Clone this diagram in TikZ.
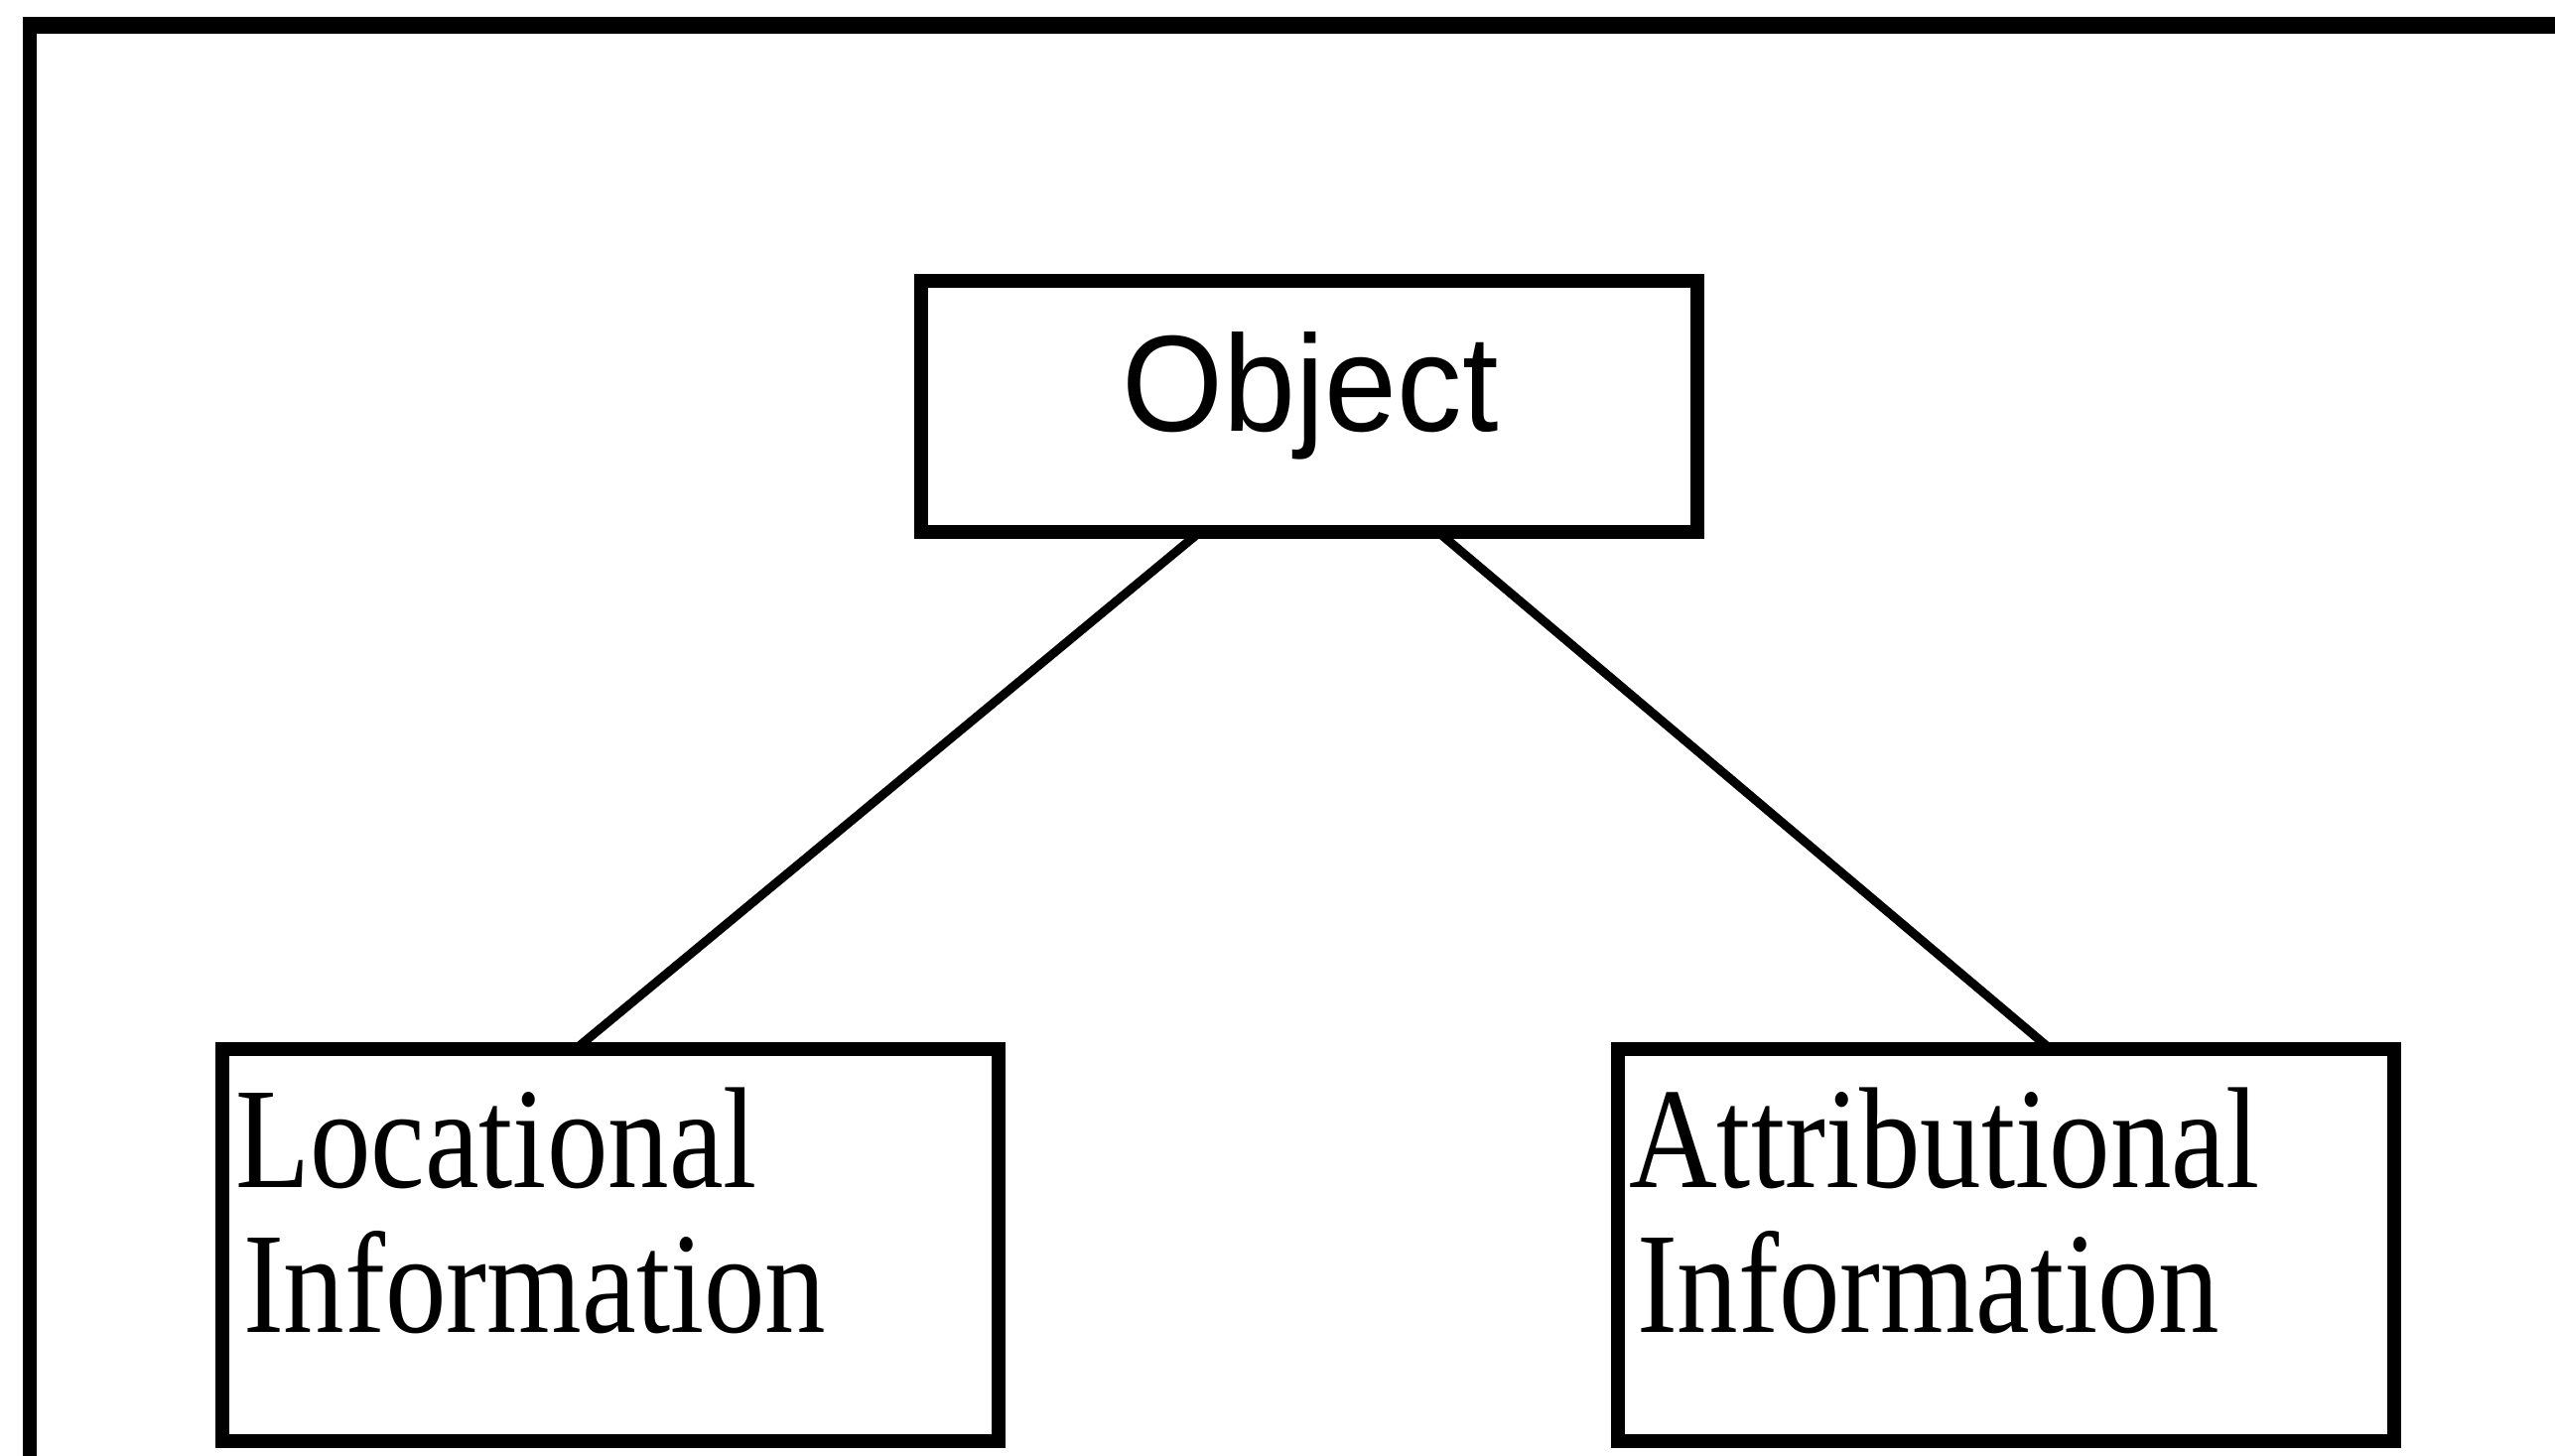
\documentclass[tikz,border=0pt]{standalone}
\usepackage{fontspec}
\setmainfont{Liberation Serif}
\newfontfamily\boxfont[FakeStretch=0.848]{Liberation Serif}
\newfontfamily\objfont[FakeStretch=0.95]{Liberation Sans}
\usetikzlibrary{calc}
\begin{document}
\begin{tikzpicture}[x=0.1pt,y=-0.1pt,
  box/.style={draw,line width=1.4pt,rectangle,inner sep=0pt,outer sep=0pt,minimum width=78.2pt},
  conn/.style={line width=0.9pt},
  frame/.style={line cap=butt},
  objtext/.style={inner sep=0pt,font=\objfont\fontsize{13.8pt}{16pt}\selectfont},
  infotext/.style={inner sep=0pt,font=\boxfont\fontsize{14.5pt}{14.6pt}\selectfont}]
\useasboundingbox (0,0) rectangle (2574,1466);
\fill[white] (0,0) rectangle (2574,1466);
% outer frame (open at right and bottom)
\draw[frame,line width=1.4pt] (30,1480) -- (30,17);
\draw[frame,line width=1.7pt] (23,25.5) -- (2600,25.5);
% boxes
\node[box,minimum height=25.3pt] (obj) at (1319,409.5) {};
\node[box,minimum height=39.5pt] (loc) at (615,1254.5) {};
\node[box,minimum height=39.5pt] (attr) at (2021,1254.5) {};
% texts
\node[objtext,anchor=base] (objlabel) at (1320,434) {Object};
\node[infotext,anchor=base west] (loc1) at (235,1196) {Locational};
\node[infotext,anchor=base west] (loc2) at (243,1342) {Information};
\node[infotext,anchor=base west] (attr1) at (1639,1196) {Attributional};
\node[infotext,anchor=base west] (attr2) at (1647,1342) {Information};
% connectors
\draw[conn] ($(obj.south west)!0.359!(obj.south east)$) -- ($(loc.north west)!0.455!(loc.north east)$);
\draw[conn] ($(obj.south west)!0.666!(obj.south east)$) -- ($(attr.north west)!0.557!(attr.north east)$);
\end{tikzpicture}
\end{document}
